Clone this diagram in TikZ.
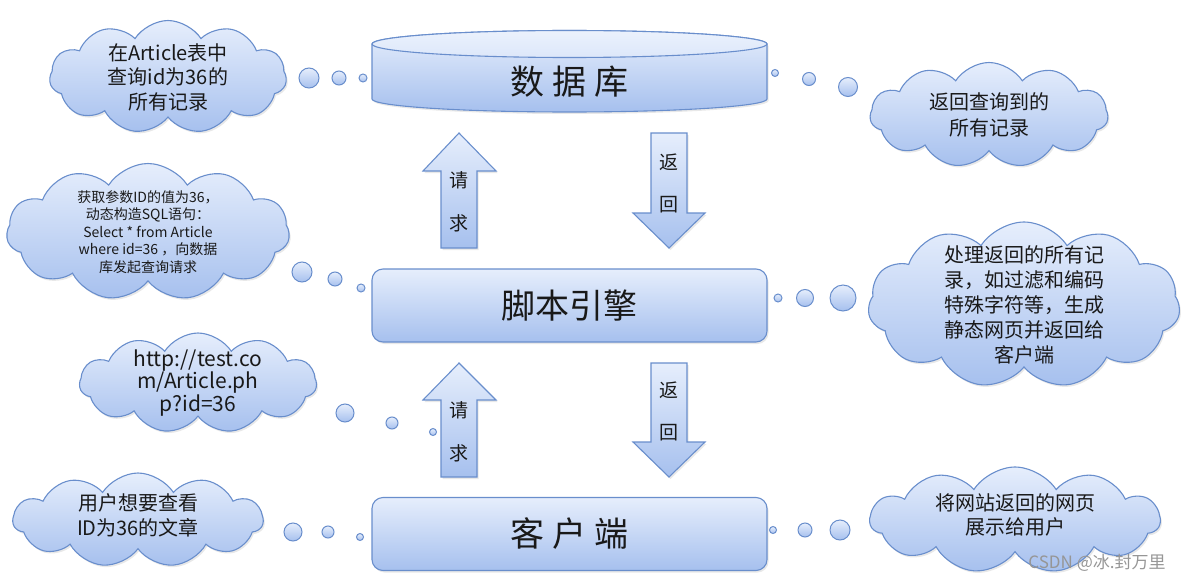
\documentclass[tikz,border=0pt]{standalone}
\usepackage{fontspec}
\setmainfont{Noto Sans CJK SC}
\usetikzlibrary{shapes.symbols,shadows}
\definecolor{topc}{RGB}{230,238,252}
\definecolor{botc}{RGB}{166,192,238}
\definecolor{edgeblue}{RGB}{105,142,204}
\definecolor{txt}{RGB}{25,25,25}
\definecolor{wm}{RGB}{150,150,150}
\tikzset{
 fillblue/.style={top color=topc,bottom color=botc,draw=edgeblue,line width=1.1pt},
 softshadow/.style={drop shadow={opacity=0.18,shadow xshift=1.5pt,shadow yshift=-2pt}},
 mainbox/.style={fillblue,softshadow,rounded corners=11pt,minimum width=395pt,minimum height=73pt,inner sep=0pt},
 cloudshape/.style={cloud,cloud puffs=11,cloud puff arc=115,cloud ignores aspect,fillblue,softshadow,inner sep=0pt},
 bubble/.style={circle,fillblue,line width=1pt,inner sep=0pt},
 ctext/.style={align=center,text=txt,font=\fontsize{20}{25}\selectfont},
 arrowshape/.style={fillblue,softshadow,line join=miter},
 alabel/.style={text=txt,font=\fontsize{19}{19}\selectfont},
 boxtext/.style={text=txt,font=\fontsize{34}{34}\selectfont},
}
\begin{document}
\begin{tikzpicture}[x=1pt,y=-1pt]
\useasboundingbox (0,0) rectangle (1190,583);
% database cylinder
\path[fillblue,softshadow] (372,44) -- (372,99) arc[start angle=180,end angle=360,x radius=197.5pt,y radius=13pt] -- (767,44) arc[start angle=0,end angle=180,x radius=197.5pt,y radius=13.5pt] -- cycle;
\path[draw=edgeblue,line width=1.1pt,top color=topc!80!white,bottom color=topc!85!botc] (569.5,44) ellipse [x radius=197.5pt,y radius=13.5pt];
\node[boxtext] (db) at (569.5,82) {数\hspace{8pt}据\hspace{8pt}库};
% script engine and client
\node[mainbox,boxtext] (engine) at (569.5,305.5) {脚本引擎};
\node[mainbox,boxtext] (client) at (569.5,534) {客\hspace{8pt}户\hspace{8pt}端};
% arrows
\path[arrowshape] (441,248) -- (441,171) -- (423,171) -- (459,133) -- (496,171) -- (477,171) -- (477,248) -- cycle;
\node[alabel] (req1a) at (459,180) {请};
\node[alabel] (req1b) at (459,223) {求};
\path[arrowshape] (651,133) -- (687,133) -- (687,213) -- (705,213) -- (669,248) -- (633,213) -- (651,213) -- cycle;
\node[alabel] (ret1a) at (669,162) {返};
\node[alabel] (ret1b) at (669,205) {回};
\path[arrowshape] (441,477) -- (441,400) -- (423,400) -- (459,363) -- (496,400) -- (477,400) -- (477,477) -- cycle;
\node[alabel] (req2a) at (459,410) {请};
\node[alabel] (req2b) at (459,453) {求};
\path[arrowshape] (651,363) -- (687,363) -- (687,442) -- (705,442) -- (669,477) -- (633,442) -- (651,442) -- cycle;
\node[alabel] (ret2a) at (669,390) {返};
\node[alabel] (ret2b) at (669,433) {回};
% clouds
\node[cloudshape,minimum width=237pt,minimum height=113pt] (c1) at (168,77) {};
\node[ctext,font=\fontsize{20}{24.5}\selectfont] (t1) at (c1.center) {在Article表中\\查询id为36的\\所有记录};
\node[cloudshape,minimum width=238pt,minimum height=105pt] (c2) at (989,115) {};
\node[ctext,font=\fontsize{20}{26}\selectfont] (t2) at (c2.center) {返回查询到的\\所有记录};
\node[cloudshape,minimum width=283pt,minimum height=137pt] (c3) at (148,232) {};
\node[ctext,font=\fontsize{14}{17.5}\selectfont] (t3) at (c3.center) {获取参数ID的值为36，\\动态构造SQL语句：\\Select * from Article\\where id=36 ，向数据\\库发起查询请求};
\node[cloudshape,minimum width=312pt,minimum height=166pt] (c4) at (1024,305) {};
\node[ctext] (t4) at (c4.center) {处理返回的所有记\\录，如过滤和编码\\特殊字符等，生成\\静态网页并返回给\\客户端};
\node[cloudshape,minimum width=237pt,minimum height=100pt] (c5) at (198,383) {};
\node[ctext,font=\fontsize{21}{22.5}\selectfont] (t5) at (c5.center) {http://test.co\\m/Article.ph\\p?id=36};
\node[cloudshape,minimum width=250pt,minimum height=94pt] (c6) at (138,520) {};
\node[ctext] (t6) at (138,515) {用户想要查看\\ID为36的文章};
\node[cloudshape,minimum width=290pt,minimum height=106pt] (c7) at (1015,520) {};
\node[ctext,font=\fontsize{20}{24}\selectfont] (t7) at (1015,515) {将网站返回的网页\\展示给用户};
% bubbles
\node[bubble,minimum size=20pt] (b1a) at (309,78) {};
\node[bubble,minimum size=14pt] (b1b) at (339,78) {};
\node[bubble,minimum size=8pt] (b1c) at (363,78) {};
\node[bubble,minimum size=7pt] (b2a) at (775,73) {};
\node[bubble,minimum size=13pt] (b2b) at (809,79) {};
\node[bubble,minimum size=19pt] (b2c) at (848,87) {};
\node[bubble,minimum size=20pt] (b3a) at (302,272) {};
\node[bubble,minimum size=14pt] (b3b) at (335,279) {};
\node[bubble,minimum size=8pt] (b3c) at (361,288) {};
\node[bubble,minimum size=8pt] (b4a) at (778,298) {};
\node[bubble,minimum size=17pt] (b4b) at (805,298) {};
\node[bubble,minimum size=26pt] (b4c) at (843,298) {};
\node[bubble,minimum size=18pt] (b5a) at (345,413) {};
\node[bubble,minimum size=12pt] (b5b) at (392,423) {};
\node[bubble,minimum size=7pt] (b5c) at (433,432) {};
\node[bubble,minimum size=18pt] (b6a) at (293,532) {};
\node[bubble,minimum size=12pt] (b6b) at (328,532) {};
\node[bubble,minimum size=7pt] (b6c) at (360,537) {};
\node[bubble,minimum size=7pt] (b7a) at (773,530) {};
\node[bubble,minimum size=14pt] (b7b) at (805,530) {};
\node[bubble,minimum size=20pt] (b7c) at (840,530) {};
% watermark
\node[text=wm,font=\fontsize{17}{17}\selectfont] (wmk) at (1097,563) {CSDN @冰.封万里};
\end{tikzpicture}
\end{document}
